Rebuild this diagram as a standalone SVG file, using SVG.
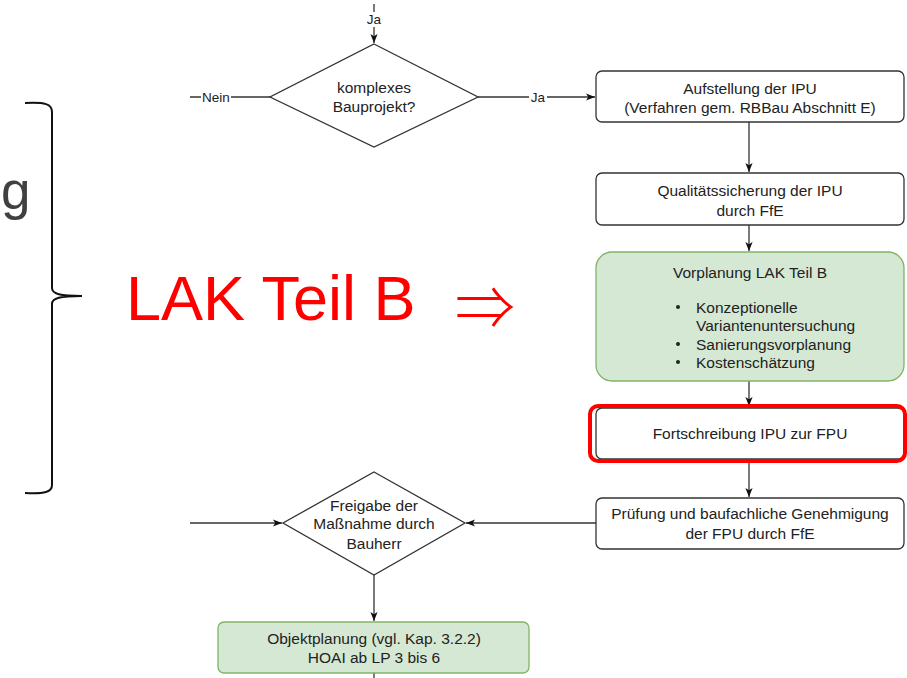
<svg xmlns="http://www.w3.org/2000/svg" width="907" height="678" viewBox="0 0 907 678">
  <style>
    text { font-family: "Liberation Sans", Arial, sans-serif; fill: #222; }
    .t { font-size: 15.5px; text-anchor: middle; dominant-baseline: central; }
    .tl { font-size: 15.5px; dominant-baseline: central; }
    .lbl { font-size: 13.5px; text-anchor: middle; dominant-baseline: central; }
    .box { fill: #ffffff; stroke: #333; stroke-width: 1.3; }
    .green { fill: #d5e8d4; stroke: #82b366; stroke-width: 1.3; }
    .dia { fill: #ffffff; stroke: #333; stroke-width: 1.3; }
    .edge { fill: none; stroke: #333; stroke-width: 1.3; }
    .lblbg { fill: #ffffff; }
  </style>
  <defs>
    <marker id="arr" viewBox="0 0 10 10" refX="10" refY="5" markerWidth="9" markerHeight="9" markerUnits="userSpaceOnUse" orient="auto">
      <path d="M0,1 L10,5 L0,9 L2.5,5 z" fill="#111"/>
    </marker>
  </defs>

  <rect width="907" height="678" fill="#ffffff"/>

  <!-- partially visible heading letter and brace -->
  <text x="1" y="209" style="font-size:53px; fill:#404040;">g</text>
  <path d="M25,103 C45,102 52,104 52,112 L52,288 C52,294 60,296 82,296 C60,296 52,298 52,304 L52,485 C52,492 45,494 25,493" fill="none" stroke="#111" stroke-width="2"/>

  <!-- annotation -->
  <text x="126" y="320" style="font-size:63px; fill:#ff0000;">LAK Teil B</text>
  <text x="455" y="330" style="font-size:60px; font-weight:300; fill:#ff0000; font-family:'Noto Sans CJK JP', 'DejaVu Sans', sans-serif;">⇒</text>

  <!-- connectors -->
  <g id="connectors">
    <line class="edge" x1="374" y1="4" x2="374" y2="43" marker-end="url(#arr)"/>
    <line class="edge" x1="190" y1="97" x2="270" y2="97"/>
    <line class="edge" x1="478" y1="97" x2="595" y2="97" marker-end="url(#arr)"/>
    <line class="edge" x1="749" y1="122" x2="749" y2="172" marker-end="url(#arr)"/>
    <line class="edge" x1="749" y1="225" x2="749" y2="251" marker-end="url(#arr)"/>
    <line class="edge" x1="749" y1="381" x2="749" y2="406" marker-end="url(#arr)"/>
    <line class="edge" x1="749" y1="462" x2="749" y2="497" marker-end="url(#arr)"/>
    <line class="edge" x1="596" y1="523" x2="466" y2="523" marker-end="url(#arr)"/>
    <line class="edge" x1="190" y1="523" x2="282" y2="523" marker-end="url(#arr)"/>
    <line class="edge" x1="374" y1="575" x2="374" y2="621" marker-end="url(#arr)"/>
    <line class="edge" x1="374" y1="673" x2="374" y2="678"/>

    <rect class="lblbg" x="365" y="12" width="18" height="15"/>
    <text class="lbl" x="374" y="19">Ja</text>
    <rect class="lblbg" x="201" y="90" width="30" height="15"/>
    <text class="lbl" x="216" y="97">Nein</text>
    <rect class="lblbg" x="529" y="90" width="18" height="15"/>
    <text class="lbl" x="538" y="97">Ja</text>
  </g>

  <g id="d-komplex">
    <polygon class="dia" points="374,44 478,97 374,147 270,97"/>
    <text class="t" x="374" y="87">komplexes</text>
    <text class="t" x="374" y="106">Bauprojekt?</text>
  </g>

  <g id="n-aufstellung">
    <rect class="box" x="596" y="71" width="308" height="51" rx="6"/>
    <text class="t" x="750" y="88">Aufstellung der IPU</text>
    <text class="t" x="750" y="107">(Verfahren gem. RBBau Abschnitt E)</text>
  </g>

  <g id="n-qualitaet">
    <rect class="box" x="596" y="173" width="308" height="52" rx="6"/>
    <text class="t" x="750" y="190">Qualitätssicherung der IPU</text>
    <text class="t" x="750" y="210">durch FfE</text>
  </g>

  <g id="n-vorplanung">
    <rect class="green" x="596" y="252" width="308" height="129" rx="16"/>
    <text class="t" x="750" y="272">Vorplanung LAK Teil B</text>
    <circle cx="678" cy="307" r="2" fill="#222"/>
    <text class="tl" x="696" y="307">Konzeptionelle</text>
    <text class="tl" x="696" y="325">Variantenuntersuchung</text>
    <circle cx="678" cy="344" r="2" fill="#222"/>
    <text class="tl" x="696" y="344">Sanierungsvorplanung</text>
    <circle cx="678" cy="362" r="2" fill="#222"/>
    <text class="tl" x="696" y="362">Kostenschätzung</text>
  </g>

  <g id="n-fortschreibung">
    <rect class="box" x="596" y="408" width="308" height="51" rx="6"/>
    <rect x="590" y="406" width="315" height="55" rx="8" fill="none" stroke="#ff0000" stroke-width="4"/>
    <text class="t" x="750" y="433">Fortschreibung IPU zur FPU</text>
  </g>

  <g id="n-pruefung">
    <rect class="box" x="596" y="498" width="308" height="51" rx="6"/>
    <text class="t" x="750" y="513">Prüfung und baufachliche Genehmigung</text>
    <text class="t" x="750" y="533">der FPU durch FfE</text>
  </g>

  <g id="d-freigabe">
    <polygon class="dia" points="374,472 465,523 374,575 283,523"/>
    <text class="t" x="374" y="505">Freigabe der</text>
    <text class="t" x="374" y="523">Maßnahme durch</text>
    <text class="t" x="374" y="543">Bauherr</text>
  </g>

  <g id="n-objektplanung">
    <rect class="green" x="218" y="622" width="311" height="51" rx="6"/>
    <text class="t" x="374" y="638">Objektplanung (vgl. Kap. 3.2.2)</text>
    <text class="t" x="374" y="657">HOAI ab LP 3 bis 6</text>
  </g>
</svg>
